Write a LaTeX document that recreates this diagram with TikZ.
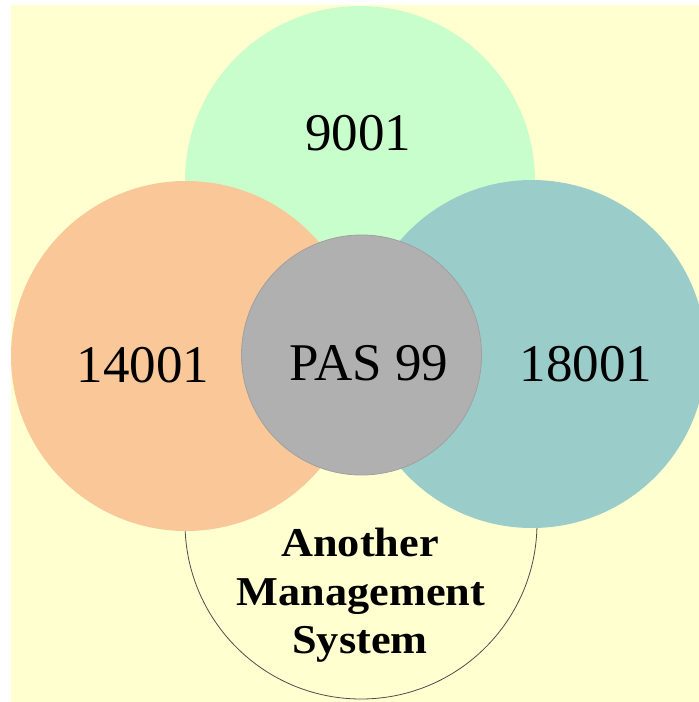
\documentclass[tikz,border=0pt]{standalone}
\usepackage{fontspec}
\usepackage{graphicx}
\setmainfont{Liberation Serif}
\definecolor{bgyellow}{RGB}{255,255,208}
\definecolor{cgreen}{RGB}{200,254,204}
\definecolor{corange}{RGB}{250,200,152}
\definecolor{cteal}{RGB}{154,204,202}
\definecolor{cgray}{RGB}{176,176,176}
\definecolor{cgrayline}{RGB}{160,160,160}
\tikzset{
  disc/.style={circle, inner sep=0pt, minimum size=#1},
  numtxt/.style={anchor=base, inner sep=0pt, font=\fontsize{53}{60}\selectfont},
  boldtxt/.style={anchor=base, inner sep=0pt, font=\fontsize{41}{48}\selectfont\bfseries}
}
\begin{document}
\begin{tikzpicture}[x=1pt,y=-1pt]
\useasboundingbox (0,0) rectangle (699,702);
\fill[white] (0,0) rectangle (699,702);
\fill[bgyellow] (11,5) rectangle (699,702);
\begin{scope}
\clip (11,5) rectangle (699,702);
\node[disc=352pt, fill=bgyellow, draw=black!70, line width=0.8pt] (ams) at (361,523) {};
\node[disc=350pt, fill=cgreen] (q) at (360,181) {};
\node[disc=350pt, fill=corange] (env) at (186,356) {};
\node[disc=348pt, fill=cteal] (hs) at (532,354) {};
\node[disc=240pt, fill=cgray, draw=cgrayline, line width=0.8pt] (pas) at (361.5,355) {};
\end{scope}
\node[numtxt] (t9001) at (358,150) {9001};
\node[numtxt] (t14001) at (143,382) {14001};
\node[numtxt] (t18001) at (586,381) {18001};
\node[numtxt] (tpas) at (369,380) {PAS 99};
\node[boldtxt] (l1) at (360,556) {\scalebox{1.08}[1]{Another}};
\node[boldtxt] (l2) at (361,605) {\scalebox{1.08}[1]{Management}};
\node[boldtxt] (l3) at (360,653) {\scalebox{1.08}[1]{System}};
\end{tikzpicture}
\end{document}
